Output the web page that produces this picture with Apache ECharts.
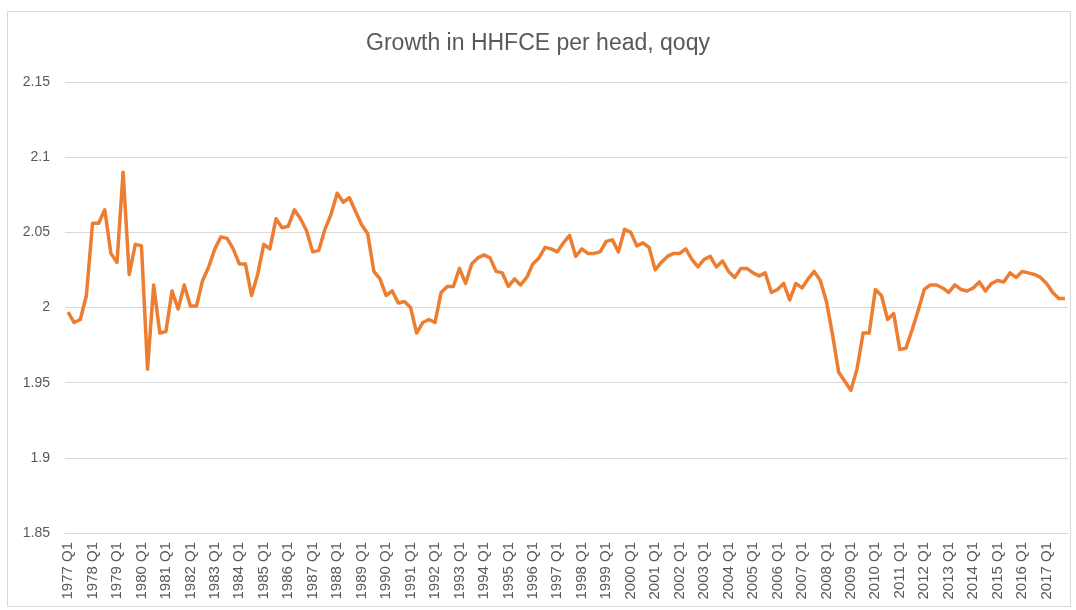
<!DOCTYPE html>
<html>
<head>
<meta charset="utf-8">
<script src="https://cdn.jsdelivr.net/npm/echarts@6/dist/echarts.min.js"></script>
<style>
  html, body { margin: 0; padding: 0; background: #fff; }
  #chart { width: 1076px; height: 610px; }
</style>
</head>
<body>
<div id="chart"></div>
<script>
const firstYear = 1977
const lastYear = 2017
const quarters = ['Q1', 'Q2', 'Q3', 'Q4']
const yTicks = [1.85, 1.9, 1.95, 2, 2.05, 2.1, 2.15]

// growth in HHFCE per head, quarter on quarter a year earlier, 1977 Q1 .. 2017 Q4
const growth = [
  1.997, 1.990, 1.992, 2.008, 2.056, 2.056, 2.065, 2.036,
  2.030, 2.090, 2.022, 2.042, 2.041, 1.959, 2.015, 1.983,
  1.984, 2.011, 1.999, 2.015, 2.001, 2.001, 2.018, 2.027,
  2.039, 2.047, 2.046, 2.039, 2.029, 2.029, 2.008, 2.022,
  2.042, 2.039, 2.059, 2.053, 2.054, 2.065, 2.059, 2.051,
  2.037, 2.038, 2.052, 2.062, 2.076, 2.070, 2.073, 2.064,
  2.055, 2.049, 2.024, 2.019, 2.008, 2.011, 2.003, 2.004,
  2.000, 1.983, 1.990, 1.992, 1.990, 2.010, 2.014, 2.014,
  2.026, 2.016, 2.029, 2.033, 2.035, 2.033, 2.024, 2.023,
  2.014, 2.019, 2.015, 2.020, 2.029, 2.033, 2.040, 2.039,
  2.037, 2.043, 2.048, 2.034, 2.039, 2.036, 2.036, 2.037,
  2.044, 2.045, 2.037, 2.052, 2.050, 2.041, 2.043, 2.040,
  2.025, 2.030, 2.034, 2.036, 2.036, 2.039, 2.032, 2.027,
  2.032, 2.034, 2.027, 2.031, 2.024, 2.020, 2.026, 2.026,
  2.023, 2.021, 2.023, 2.010, 2.012, 2.016, 2.005, 2.016,
  2.013, 2.019, 2.024, 2.018, 2.004, 1.982, 1.957, 1.951,
  1.945, 1.959, 1.983, 1.983, 2.012, 2.008, 1.992, 1.996,
  1.972, 1.973, 1.985, 1.998, 2.012, 2.015, 2.015, 2.013,
  2.010, 2.015, 2.012, 2.011, 2.013, 2.017, 2.011, 2.016,
  2.018, 2.017, 2.023, 2.020, 2.024, 2.023, 2.022, 2.020,
  2.016, 2.010, 2.006, 2.006
]

const categories = []
for (let y = firstYear; y <= lastYear; y++) {
  quarters.forEach(q => categories.push(y + ' ' + q))
}

const font = '"Liberation Sans", Arial, sans-serif'
const myChart = echarts.init(document.querySelector('#chart'))

myChart.setOption({
  animation: false,
  backgroundColor: '#fff',
  graphic: [{
    type: 'rect',
    shape: { x: 7.5, y: 11.5, width: 1063, height: 595 },
    style: { fill: 'none', stroke: '#d9d9d9', lineWidth: 1 },
    silent: true
  }],
  title: {
    text: 'Growth in HHFCE per head, qoqy',
    left: 'center',
    top: 32,
    padding: 0,
    textStyle: { fontFamily: font, fontSize: 23, fontWeight: 'normal', color: '#595959' }
  },
  grid: { left: 65, right: 8, top: 82, bottom: 77 },
  xAxis: {
    type: 'category',
    data: categories,
    boundaryGap: true,
    axisLine: { lineStyle: { color: '#d9d9d9' } },
    axisTick: { show: false },
    axisLabel: {
      interval: 3,
      rotate: 90,
      margin: 9,
      fontFamily: font,
      fontSize: 15,
      color: '#595959'
    }
  },
  yAxis: {
    type: 'value',
    min: yTicks[0],
    max: yTicks[yTicks.length - 1],
    interval: 0.05,
    axisLine: { show: false },
    axisTick: { show: false },
    splitLine: { lineStyle: { color: '#d9d9d9', width: 1 } },
    axisLabel: {
      margin: 15,
      fontFamily: font,
      fontSize: 14,
      color: '#595959',
      formatter: v => String(+v.toFixed(2))
    }
  },
  series: [{
    name: 'growth',
    type: 'line',
    data: growth,
    showSymbol: false,
    smooth: false,
    lineStyle: { color: '#ED7D31', width: 3.5, join: 'round' },
    itemStyle: { color: '#ED7D31' }
  }]
});
</script>
</body>
</html>
